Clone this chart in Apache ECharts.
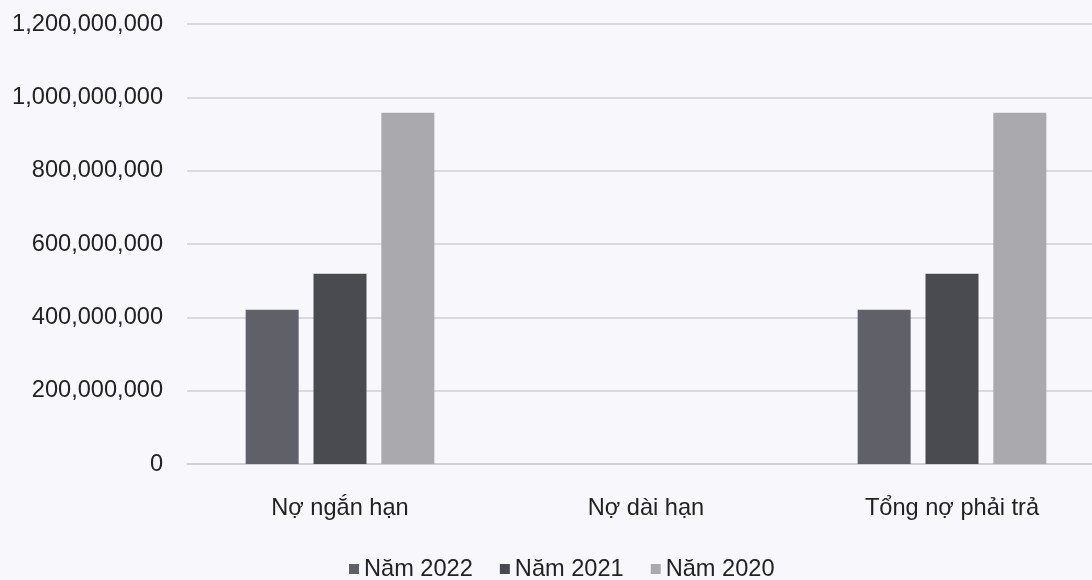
<!DOCTYPE html>
<html>
<head>
<meta charset="utf-8">
<script src="https://cdn.jsdelivr.net/npm/echarts@6/dist/echarts.min.js"></script>
<style>
html,body{margin:0;padding:0;background:#f8f8fc;}
#c{width:1092px;height:580px;}
</style>
</head>
<body>
<div id="c"></div>
<script>
const categories = ['Nợ ngắn hạn', 'Nợ dài hạn', 'Tổng nợ phải trả'];
const seriesNames = ['Năm 2022', 'Năm 2021', 'Năm 2020'];
const values2022 = [421000000, 0, 421000000];
const values2021 = [519000000, 0, 519000000];
const values2020 = [958000000, 0, 958000000];
const yTicks = [0, 200000000, 400000000, 600000000, 800000000, 1000000000, 1200000000];

const colors = ['#606068', '#4a4a51', '#a9a9ae'];
const font = '"Liberation Sans", Arial, sans-serif';
const chart = echarts.init(document.getElementById('c'), null, {renderer: 'canvas'});
const data = [values2022, values2021, values2020];
chart.setOption({
  backgroundColor: '#f8f8fc',
  animation: false,
  color: colors,
  grid: {left: 187, top: 24, width: 918, height: 440, containLabel: false, outerBoundsMode: 'none'},
  legend: {
    top: 552, left: 344, itemWidth: 10, itemHeight: 10, itemGap: 27,
    icon: 'rect',
    textStyle: {fontFamily: font, fontSize: 23.6, color: '#222'},
    data: seriesNames
  },
  xAxis: {
    type: 'category', data: categories,
    axisLine: {show: true, lineStyle: {color: '#cfcfd4', width: 1.5}},
    axisTick: {show: false},
    axisLabel: {fontFamily: font, fontSize: 23.6, color: '#222', margin: 32}
  },
  yAxis: {
    type: 'value', min: yTicks[0], max: yTicks[yTicks.length - 1], interval: 200000000,
    axisLine: {show: false}, axisTick: {show: false},
    splitLine: {lineStyle: {color: '#cfcfd4', width: 1.5}},
    axisLabel: {
      fontFamily: font, fontSize: 23.6, color: '#222', margin: 24,
      formatter: v => v.toLocaleString('en-US')
    }
  },
  series: seriesNames.map((n, i) => ({
    name: n, type: 'bar', data: data[i],
    barWidth: 53, barGap: '28%',
    itemStyle: {color: colors[i]}
  }))
});
</script>
</body>
</html>
